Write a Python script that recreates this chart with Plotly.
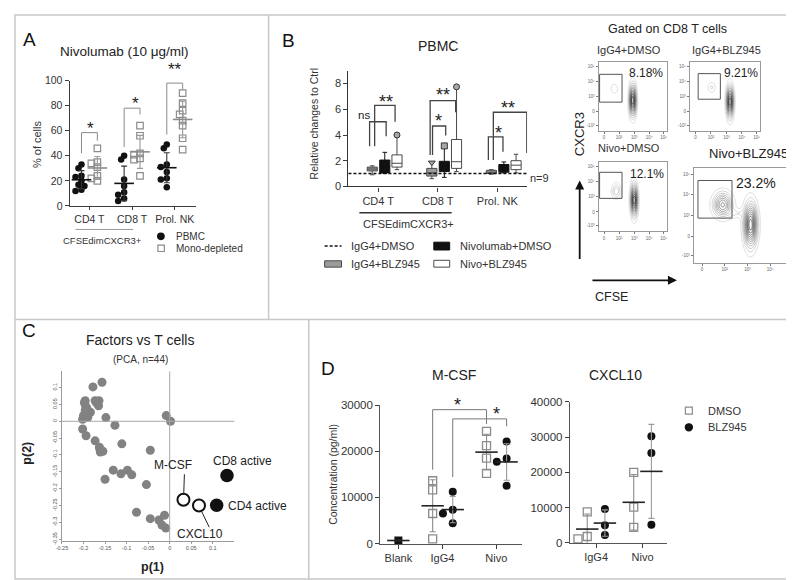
import numpy as np
import plotly.graph_objects as go

W, H = 794, 580
FONT = "Liberation Sans, Arial, Helvetica, sans-serif"
INK = "#1e1e1e"
AXC = "#3c3c3c"
GRAY_SQ = "#8c8c8c"

# ================= DATA =================
# Panel A : % of cells
a_categories = ["CD4 T", "CD8 T", "Prol. NK"]
a_pbmc = [[33, 30, 24, 23, 20, 17, 16, 13, 12],
          [40, 37, 21, 16, 11, 9, 6, 4],
          [49, 46, 33, 31, 27, 22, 21, 15]]
a_mono = [[46, 35, 34, 31, 24, 22, 20],
          [64, 56, 42, 41, 38, 37, 24],
          [90, 82, 76, 73, 68, 64, 54, 45]]
a_sig = ["*", "*", "**"]
a_yticks = [0, 20, 40, 60, 80, 100]

# Panel B : box statistics (relative to IgG4+DMSO = 1)
b_categories = ["CD4 T", "CD8 T", "Prol. NK"]
b_series = ["IgG4+BLZ945", "Nivolumab+DMSO", "Nivo+BLZ945"]
b_min = [[0.90, 0.60, 0.95], [1.00, 0.70, 1.05], [1.30, 1.15, 1.05]]
b_q1 = [[1.20, 0.80, 1.00], [1.05, 1.15, 1.10], [1.50, 1.40, 1.30]]
b_med = [[1.35, 1.05, 1.10], [1.50, 1.60, 1.40], [1.80, 1.92, 1.65]]
b_q3 = [[1.50, 1.40, 1.25], [2.05, 1.95, 1.70], [2.45, 3.65, 2.00]]
b_max = [[1.60, 1.85, 1.30], [2.65, 3.15, 1.90], [4.00, 7.75, 2.50]]
b_ctrl = 1.0
b_n = 9
b_yticks = [0, 2, 4, 6, 8]
b_sig = ["ns", "**", "**", "*", "*", "**"]

# Flow plots (gated on CD8 T cells)
flow_titles = ["IgG4+DMSO", "IgG4+BLZ945", "Nivo+DMSO", "Nivo+BLZ945"]
flow_pct = ["8.18%", "9.21%", "12.1%", "23.2%"]
# density populations: (CFSE centre, CXCR3 centre, spread x, spread y, weight)
flow_pops = [
    [(0.50, 0.44, 0.033, 0.15, 1.0), (0.23, 0.61, 0.040, 0.055, 0.16)],
    [(0.57, 0.42, 0.033, 0.15, 1.0), (0.31, 0.63, 0.040, 0.055, 0.18)],
    [(0.52, 0.45, 0.033, 0.15, 1.0), (0.26, 0.58, 0.045, 0.075, 0.32)],
    [(0.55, 0.40, 0.042, 0.15, 1.0), (0.28, 0.61, 0.060, 0.085, 0.70), (0.42, 0.52, 0.060, 0.035, 0.14)],
]
flow_gates = [(0.015, 0.343, 0.414, 0.82), (0.118, 0.433, 0.457, 0.83),
              (0.015, 0.343, 0.475, 0.85), (0.040, 0.370, 0.470, 0.866)]
flow_xtick_text = ["0", "10²", "10³", "10⁴", "10⁵"]
flow_ytick_text = ["-10³", "0", "10³", "10⁴", "10⁵"]

# Panel C : PCA loadings
c_p1 = [-0.178, -0.157, -0.196, -0.195, -0.196, -0.200, -0.202, -0.192, -0.184, -0.173,
        -0.164, -0.165, -0.148, -0.127, -0.202, -0.194, -0.173, -0.163, -0.161, -0.155,
        -0.111, -0.045, -0.008, 0.002, -0.131, -0.113, -0.098, -0.088, -0.150, -0.054,
        -0.077, -0.045, -0.025, -0.012, -0.018, -0.009, -0.198, -0.190, -0.170, -0.162]
c_p2 = [0.102, 0.116, 0.061, 0.046, 0.032, 0.017, 0.006, 0.038, 0.027, 0.061,
        0.061, 0.046, 0.011, -0.012, -0.023, -0.043, -0.058, -0.077, -0.091, -0.089,
        -0.067, -0.086, 0.017, 0.000, -0.145, -0.156, -0.145, -0.159, -0.172, -0.188,
        -0.270, -0.289, -0.293, -0.279, -0.308, -0.317, 0.055, 0.012, 0.055, -0.082]
c_named = ["M-CSF", "CXCL10", "CD4 active", "CD8 active"]
c_named_p1 = [0.032, 0.068, 0.109, 0.133]
c_named_p2 = [-0.233, -0.250, -0.249, -0.161]
c_xticks = [-0.25, -0.2, -0.15, -0.1, -0.05, 0, 0.05, 0.1]
c_yticks = [-0.35, -0.3, -0.25, -0.2, -0.15, -0.1, -0.05, 0, 0.05, 0.1]

# Panel D : concentrations (pg/ml)
d_mcsf_groups = ["Blank", "IgG4", "Nivo"]
d_mcsf_blank = [620, 680]
d_mcsf_dmso = [[13600, 11600, 6500, 1000], [24300, 21200, 18500, 15200]]
d_mcsf_blz = [[11200, 7300, 6500, 4400], [22100, 18400, 17700, 12500]]
d_mcsf_yticks = [0, 10000, 20000, 30000]
d_cxcl_groups = ["IgG4", "Nivo"]
d_cxcl_dmso = [[8800, 1100, 1800], [20000, 10100, 4400]]
d_cxcl_blz = [[9600, 2200, 5000], [30200, 25500, 5100]]
d_cxcl_yticks = [0, 10000, 20000, 30000, 40000]
d_series = ["DMSO", "BLZ945"]

# ================= HELPERS =================
fig = go.Figure()
ann, shp = [], []


def PX(x):
    return x / W


def PY(y):
    return 1 - y / H


def xd(a, b):
    return [a / W, b / W]


def yd(top, bot):
    return [1 - bot / H, 1 - top / H]


def txt(t, x, y, size, color=INK, xa="center", ya="middle", angle=0, bold=False):
    ann.append(dict(text=(f"<b>{t}</b>" if bold else t), x=PX(x), y=PY(y),
                    xref="paper", yref="paper", showarrow=False, xanchor=xa,
                    yanchor=ya, textangle=angle,
                    font=dict(family=FONT, size=size, color=color)))


def pline(x0, y0, x1, y1, color="#c8c8c8", width=1.5, dash=None):
    shp.append(dict(type="line", xref="paper", yref="paper", x0=PX(x0), y0=PY(y0),
                    x1=PX(x1), y1=PY(y1), line=dict(color=color, width=width, dash=dash)))


def prect(x0, y0, x1, y1, line="#444", fill=None, width=1):
    shp.append(dict(type="rect", xref="paper", yref="paper", x0=PX(x0), y0=PY(y0),
                    x1=PX(x1), y1=PY(y1), line=dict(color=line, width=width),
                    fillcolor=fill or "rgba(0,0,0,0)"))


def pcircle(cx, cy, r, fill, line):
    shp.append(dict(type="circle", xref="paper", yref="paper", x0=PX(cx - r), y0=PY(cy + r),
                    x1=PX(cx + r), y1=PY(cy - r), line=dict(color=line, width=1.2), fillcolor=fill))


def bracket(xa, ya, xl, xr, top, yl, yr, color, width=1):
    shp.append(dict(type="path", xref=xa, yref=ya,
                    path=f"M {xl},{yl} L {xl},{top} L {xr},{top} L {xr},{yr}",
                    line=dict(color=color, width=width)))


def axis(domain, rng, anchor, **kw):
    d = dict(domain=domain, range=rng, anchor=anchor, showgrid=False, zeroline=False,
             showline=True, linecolor=AXC, linewidth=1, ticks="outside", ticklen=4,
             tickwidth=1, tickcolor=AXC, fixedrange=True,
             tickfont=dict(family=FONT, size=10.5, color="#333"))
    d.update(kw)
    return d


def swarm(vals, center, step, xpx, ypx, diam):
    order = np.argsort(vals)[::-1]
    placed, xs = [], [0.0] * len(vals)
    for idx in order:
        v = vals[idx]
        x = center
        for c in [0, -1, 1, -2, 2, -3, 3]:
            x = center + c * step
            if all(((x - q) * xpx) ** 2 + ((v - w) * ypx) ** 2 >= diam ** 2 for q, w in placed):
                break
        placed.append((x, v))
        xs[idx] = x
    return xs


def mean_sd(xpos, vals, xa, ya, color, ecolor, size=14):
    fig.add_trace(go.Scatter(
        x=[xpos], y=[float(np.mean(vals))], mode="markers", xaxis=xa, yaxis=ya,
        cliponaxis=False, hoverinfo="skip", showlegend=False,
        marker=dict(symbol="line-ew", size=size, color=color, line=dict(width=1.6, color=color)),
        error_y=dict(type="data", array=[float(np.std(vals, ddof=1))], color=ecolor,
                     thickness=1.1, width=3)))


layout_axes = {}

# ================= PANEL A =================
A_OFF = 0.186
layout_axes["xaxis"] = axis(xd(56, 183), [-0.465, 2.49], "y", tickvals=[0, 1, 2],
                            ticktext=a_categories, ticklen=3)
layout_axes["yaxis"] = axis(yd(68, 196), [0, 100], "x", tickvals=a_yticks)

px_, py_, mx_, my_ = [], [], [], []
for i in range(3):
    xs = swarm(a_pbmc[i], i - A_OFF, 0.07, 43, 1.28, 4.6)
    px_ += xs
    py_ += a_pbmc[i]
    xs = swarm(a_mono[i], i + A_OFF, 0.07, 43, 1.28, 4.6)
    mx_ += xs
    my_ += a_mono[i]
fig.add_trace(go.Scatter(x=px_, y=py_, mode="markers", name="PBMC", cliponaxis=False,
                         marker=dict(symbol="circle", size=6.5, color="#111")))
fig.add_trace(go.Scatter(x=mx_, y=my_, mode="markers", name="Mono-depleted", cliponaxis=False,
                         marker=dict(symbol="square-open", size=6.5, color=GRAY_SQ, line=dict(width=1.2))))
for i in range(3):
    mean_sd(i - A_OFF, a_pbmc[i], "x", "y", "#111", "#333")
    mean_sd(i + A_OFF, a_mono[i], "x", "y", GRAY_SQ, "#999")

a_tops = [(58.5, 42, 52), (78, 47, 73), (98, 57, 93)]
for i, (top, yl, yr) in enumerate(a_tops):
    bracket("x", "y", i - A_OFF, i + A_OFF, top, yl, yr, "#8a8a8a", 1)
for (sx, sy), s in zip([(77, 117), (122, 91), (162, 57)], a_sig):
    txt(s, sx, sy, 17, "#222")

txt("A", 16, 26, 19, "#111")
txt("Nivolumab (10 μg/ml)", 111, 38, 13.5, "#222")
txt("% of cells", 23, 133, 11, "#333", angle=-90)
pline(62, 220, 120, 220, "#999", 1)
txt("CFSEdimCXCR3+", 89, 231, 9.5, "#333")
pcircle(148, 227, 3.3, "#111", "#111")
txt("PBMC", 161, 227, 10, "#333", xa="left")
prect(145, 236, 151.5, 242.5, GRAY_SQ, None, 1.2)
txt("Mono-depleted", 161, 239.5, 10, "#333", xa="left")

# ================= PANEL B =================
layout_axes["xaxis2"] = axis(xd(337, 517), [-0.5, 2.5], "y2", tickvals=[0, 1, 2],
                             ticktext=b_categories, linewidth=1.4, linecolor="#333",
                             tickfont=dict(family=FONT, size=11, color="#333"))
layout_axes["yaxis2"] = axis(yd(58, 176), [0, 9], "x2", tickvals=b_yticks, linewidth=1.4,
                             linecolor="#333", tickfont=dict(family=FONT, size=11, color="#333"))
b_off = [-0.10, 0.11, 0.315]
b_fill = ["#9b9b9b", "#111111", "#ffffff"]
b_lc = ["#4a4a4a", "#111111", "#4a4a4a"]
for g in range(3):
    fig.add_trace(go.Box(x=[c + b_off[g] for c in range(3)], q1=b_q1[g], median=b_med[g],
                         q3=b_q3[g], lowerfence=b_min[g], upperfence=b_max[g], width=0.17,
                         fillcolor=b_fill[g], line=dict(color=b_lc[g], width=1),
                         whiskerwidth=0.45, xaxis="x2", yaxis="y2", name=b_series[g],
                         hoverinfo="skip", showlegend=False))
# symbols marking the extreme value
ext = [(2, 0, "circle"), (2, 1, "circle"), (1, 1, "square"), (0, 1, "triangle-down")]
fig.add_trace(go.Scatter(x=[c + b_off[g] for g, c, s in ext], y=[b_max[g][c] for g, c, s in ext],
                         mode="markers", xaxis="x2", yaxis="y2", hoverinfo="skip", cliponaxis=False,
                         showlegend=False,
                         marker=dict(symbol=[s for g, c, s in ext], size=6, color="#a8a8a8",
                                     line=dict(color="#333", width=1))))
shp.append(dict(type="line", xref="x2 domain", yref="y2", x0=0, x1=1, y0=b_ctrl, y1=b_ctrl,
                line=dict(color="#111", width=1.5, dash="3px,2px")))
b_br = [(0, -0.145, 0.133, 5.03, 3.12, 3.9), (0, -0.06, 0.283, 6.3, 3.12, 5.03),
        (1, -0.128, 0.30, 6.67, 2.44, 5.77), (1, -0.088, 0.133, 4.7, 2.44, 3.97),
        (2, -0.15, 0.095, 3.85, 2.05, 2.7), (2, -0.067, 0.495, 5.77, 2.05, 2.6)]
for c, xl, xr, top, yl, yr in b_br:
    bracket("x2", "y2", c + xl, c + xr, top, yl, yr, "#444", 1.3)
for (sx, sy), s in zip([(353, 103), (375, 90), (432, 83), (428, 109), (488, 122), (498, 96)], b_sig):
    if s == "ns":
        txt(s, sx, sy, 11.5, "#222")
    else:
        txt(s, sx, sy, 18, "#222")
txt(f"n={b_n}", 518, 167, 11, "#333", xa="left")
txt("B", 277, 27, 19, "#111")
txt("PBMC", 427, 33, 14, "#222")
txt("Relative changes to Ctrl", 302, 112, 10.5, "#333", angle=-90)
pline(348, 203, 441, 203, "#333", 1.6)
txt("CFSEdimCXCR3+", 397, 214, 11, "#333")
pline(313, 237, 330, 237, "#111", 1.5, "3px,2px")
txt("IgG4+DMSO", 338, 237, 11, "#333", xa="left")
prect(423, 233, 439, 241, "#111", "#111")
txt("Nivolumab+DMSO", 447, 237, 11, "#333", xa="left")
prect(313, 252, 330, 258.5, "#4a4a4a", "#9b9b9b")
txt("IgG4+BLZ945", 338, 255, 11, "#333", xa="left")
prect(423, 251.5, 439, 258.5, "#4a4a4a", "#fff")
txt("Nivo+BLZ945", 447, 255, 11, "#333", xa="left")

# ================= FLOW PANELS =================
frames = [(589, 658, 49, 119), (681, 752, 49, 119), (589, 658, 151, 222), (685, 789, 157, 254)]
gx = np.linspace(0, 1, 140)
GX, GY = np.meshgrid(gx, gx)
for k in range(4):
    n = k + 3
    x0, x1, y0, y1 = frames[k]
    layout_axes[f"xaxis{n}"] = axis(xd(x0, x1), [0, 1], f"y{n}", mirror=True, linecolor="#9a9a9a",
                                    ticklen=2, tickcolor="#777", tickvals=[0.08, 0.3, 0.52, 0.74, 0.95],
                                    ticktext=flow_xtick_text,
                                    tickfont=dict(family=FONT, size=4.5, color="#666"))
    layout_axes[f"yaxis{n}"] = axis(yd(y0, y1), [0, 1], f"x{n}", mirror=True, linecolor="#9a9a9a",
                                    ticklen=2, tickcolor="#777", tickvals=[0.08, 0.28, 0.5, 0.72, 0.93],
                                    ticktext=flow_ytick_text,
                                    tickfont=dict(family=FONT, size=4.5, color="#666"))
    Z = np.zeros_like(GX)
    for cx, cy, sx, sy, a in flow_pops[k]:
        Z += a * np.exp(-((GX - cx) ** 2 / (2 * sx ** 2) + (GY - cy) ** 2 / (2 * sy ** 2)))
    fig.add_trace(go.Contour(x=gx, y=gx, z=Z, xaxis=f"x{n}", yaxis=f"y{n}", showscale=False,
                             autocontour=False, zmin=0, zmax=1.0,
                             contours=dict(coloring="lines", start=0.08, end=1.0, size=0.085),
                             line=dict(width=0.6),
                             colorscale=[[0, "#c8c8c8"], [0.3, "#8a8a8a"], [1, "#111111"]],
                             hoverinfo="skip"))
    gxl, gxr, gyb, gyt = flow_gates[k]
    shp.append(dict(type="rect", xref=f"x{n}", yref=f"y{n}", x0=gxl, x1=gxr, y0=gyb, y1=gyt,
                    line=dict(color="#555", width=1)))

txt("Gated on CD8 T cells", 658, 15, 12.5, "#222")
txt(flow_titles[0], 620, 37, 11, "#333")
txt(flow_titles[1], 718, 37, 11, "#333")
txt(flow_titles[2], 620, 137, 11, "#333")
txt(flow_titles[3], 740, 142, 13, "#222")
txt(flow_pct[0], 637, 60, 12, "#222")
txt(flow_pct[1], 733, 60, 12, "#222")
txt(flow_pct[2], 638, 163, 12, "#222")
txt(flow_pct[3], 748, 173, 14, "#222")
txt("CXCR3", 570, 123, 13, "#222", angle=-90)
txt("CFSE", 602, 289, 12.5, "#222")
ann.append(dict(x=PX(570), y=PY(170), ax=0, ay=80, xref="paper", yref="paper", text="",
                showarrow=True, arrowhead=2, arrowsize=1, arrowwidth=1.8, arrowcolor="#111"))
ann.append(dict(x=PX(668), y=PY(272), ax=-86, ay=0, xref="paper", yref="paper", text="",
                showarrow=True, arrowhead=2, arrowsize=1, arrowwidth=1.8, arrowcolor="#111"))

# ================= PANEL C =================
layout_axes["xaxis7"] = axis(xd(48.3, 222), [-0.25, 0.15], "y7", tickvals=c_xticks,
                             ticktext=[f"{v:g}" for v in c_xticks], linecolor="#9a9a9a",
                             tickcolor="#9a9a9a", ticklen=2,
                             tickfont=dict(family=FONT, size=5.5, color="#555"))
layout_axes["yaxis7"] = axis(yd(365, 538), [-0.355, 0.148], "x7", tickvals=c_yticks,
                             ticktext=[f"{v:g}" for v in c_yticks], linecolor="#9a9a9a",
                             tickcolor="#9a9a9a", ticklen=2, tickangle=-90,
                             tickfont=dict(family=FONT, size=5.5, color="#555"))
shp.append(dict(type="line", xref="x7 domain", yref="y7", x0=0, x1=1, y0=0, y1=0,
                line=dict(color="#a8a8a8", width=1)))
shp.append(dict(type="line", xref="x7", yref="y7 domain", x0=0, x1=0, y0=0, y1=1,
                line=dict(color="#a8a8a8", width=1)))
fig.add_trace(go.Scatter(x=c_p1, y=c_p2, mode="markers", xaxis="x7", yaxis="y7",
                         hoverinfo="skip", showlegend=False,
                         marker=dict(size=9, color="#828282")))
fig.add_trace(go.Scatter(x=c_named_p1[:2], y=c_named_p2[:2], mode="markers", xaxis="x7", yaxis="y7",
                         hoverinfo="skip", showlegend=False, cliponaxis=False,
                         marker=dict(size=12, color="#fff", line=dict(color="#111", width=2))))
fig.add_trace(go.Scatter(x=c_named_p1[2:], y=c_named_p2[2:], mode="markers", xaxis="x7", yaxis="y7",
                         hoverinfo="skip", showlegend=False, cliponaxis=False,
                         marker=dict(size=13.5, color="#111")))
txt("C", 15, 323, 19, "#111")
txt("Factors vs T cells", 127, 333, 14, "#222")
txt("(PCA, n=44)", 127, 353, 10, "#333")
txt("p(2)", 13, 448, 12.5, "#222", angle=-90, bold=True)
txt("p(1)", 140, 565, 12.5, "#222", bold=True)
txt(c_named[0], 160, 461, 12, "#222")
pline(171.7, 470, 171, 491, "#222", 1)
txt(c_named[1], 187, 531, 12, "#222")
pline(189.3, 508.5, 196.7, 524, "#222", 1)
txt(c_named[2], 245, 502, 12, "#222")
txt(c_named[3], 230, 456, 12, "#222")

# ================= PANEL D =================
D_POS = [0.0, 0.9, 2.0]
D_OFF = [-0.2, 0.21]
layout_axes["xaxis8"] = axis(xd(369, 512), [-0.371, 2.527], "y8", tickvals=D_POS,
                             ticktext=d_mcsf_groups, linecolor="#555",
                             tickfont=dict(family=FONT, size=11, color="#333"))
layout_axes["yaxis8"] = axis(yd(399.3, 540.7), [0, 30000], "x8", tickvals=d_mcsf_yticks,
                             ticktext=[str(v) for v in d_mcsf_yticks], linecolor="#555",
                             tickfont=dict(family=FONT, size=11.5, color="#333"))
C_POS = [0.0, 1.0]
C_OFF = [-0.19, 0.19]
layout_axes["xaxis9"] = axis(xd(560, 657.7), [-0.566, 1.52], "y9", tickvals=C_POS,
                             ticktext=d_cxcl_groups, linecolor="#555",
                             tickfont=dict(family=FONT, size=11, color="#333"))
layout_axes["yaxis9"] = axis(yd(396, 540), [0, 40000], "x9", tickvals=d_cxcl_yticks,
                             ticktext=[str(v) for v in d_cxcl_yticks], linecolor="#555",
                             tickfont=dict(family=FONT, size=11.5, color="#333"))


def d_group(xa, ya, pos, offs, dmso, blz, xpx, ypx):
    sx, sy, bx, by = [], [], [], []
    for gi, p in enumerate(pos):
        xs = swarm(dmso[gi], p + offs[0], 0.1, xpx, ypx, 6.5)
        sx += xs
        sy += dmso[gi]
        xs = swarm(blz[gi], p + offs[1], 0.1, xpx, ypx, 6.5)
        bx += xs
        by += blz[gi]
    fig.add_trace(go.Scatter(x=sx, y=sy, mode="markers", xaxis=xa, yaxis=ya, cliponaxis=False,
                             hoverinfo="skip", showlegend=False,
                             marker=dict(symbol="square-open", size=8, color=GRAY_SQ, line=dict(width=1.3))))
    fig.add_trace(go.Scatter(x=bx, y=by, mode="markers", xaxis=xa, yaxis=ya, cliponaxis=False,
                             hoverinfo="skip", showlegend=False,
                             marker=dict(symbol="circle", size=8, color="#111")))
    for gi, p in enumerate(pos):
        mean_sd(p + offs[0], dmso[gi], xa, ya, "#222", "#8c8c8c", 16)
        mean_sd(p + offs[1], blz[gi], xa, ya, "#222", "#9a9a9a", 16)


fig.add_trace(go.Scatter(x=[D_POS[0]], y=[float(np.mean(d_mcsf_blank))], mode="markers",
                         xaxis="x8", yaxis="y8", cliponaxis=False, hoverinfo="skip", showlegend=False,
                         marker=dict(symbol="square", size=8, color="#111")))
mean_sd(D_POS[0], d_mcsf_blank, "x8", "y8", "#222", "#555", 16)
d_group("x8", "y8", D_POS[1:], D_OFF, d_mcsf_dmso, d_mcsf_blz, 49.35, 141.4 / 30000)
d_group("x9", "y9", C_POS, C_OFF, d_cxcl_dmso, d_cxcl_blz, 46.8, 144 / 40000)

bracket("x8", "y8", D_POS[1] + D_OFF[0], D_POS[2] + D_OFF[0], 29000, 16000, 25900, "#777", 1)
bracket("x8", "y8", D_POS[1] + D_OFF[1], D_POS[2] + D_OFF[1], 27000, 14400, 25400, "#777", 1)
txt("*", 446.7, 399.5, 18, "#222")
txt("*", 485.7, 408, 18, "#222")

txt("D", 316, 362, 19, "#111")
txt("M-CSF", 443, 369, 14, "#222")
txt("CXCL10", 606, 369, 14, "#222")
txt("Concentration (pg/ml)", 322, 470, 10.5, "#333", angle=-90)
prect(676.5, 401.5, 683.5, 408.5, GRAY_SQ, None, 1.2)
txt(d_series[0], 697.5, 405, 11, "#333", xa="left")
pcircle(680, 422, 3.6, "#111", "#111")
txt(d_series[1], 697.5, 422, 11, "#333", xa="left")

# ================= FRAME / DIVIDERS =================
prect(1, 1, 792, 577, "#c8c8c8", None, 1.5)
pline(256.5, 1, 256.5, 312)
pline(1, 312, 792, 312)
pline(297, 312, 297, 577)

fig.update_layout(width=W, height=H, margin=dict(l=0, r=0, t=0, b=0),
                  paper_bgcolor="white", plot_bgcolor="rgba(0,0,0,0)", showlegend=False,
                  boxmode="overlay", font=dict(family=FONT, color="#333"),
                  annotations=ann, shapes=shp, **layout_axes)
fig.write_html("out.html")
